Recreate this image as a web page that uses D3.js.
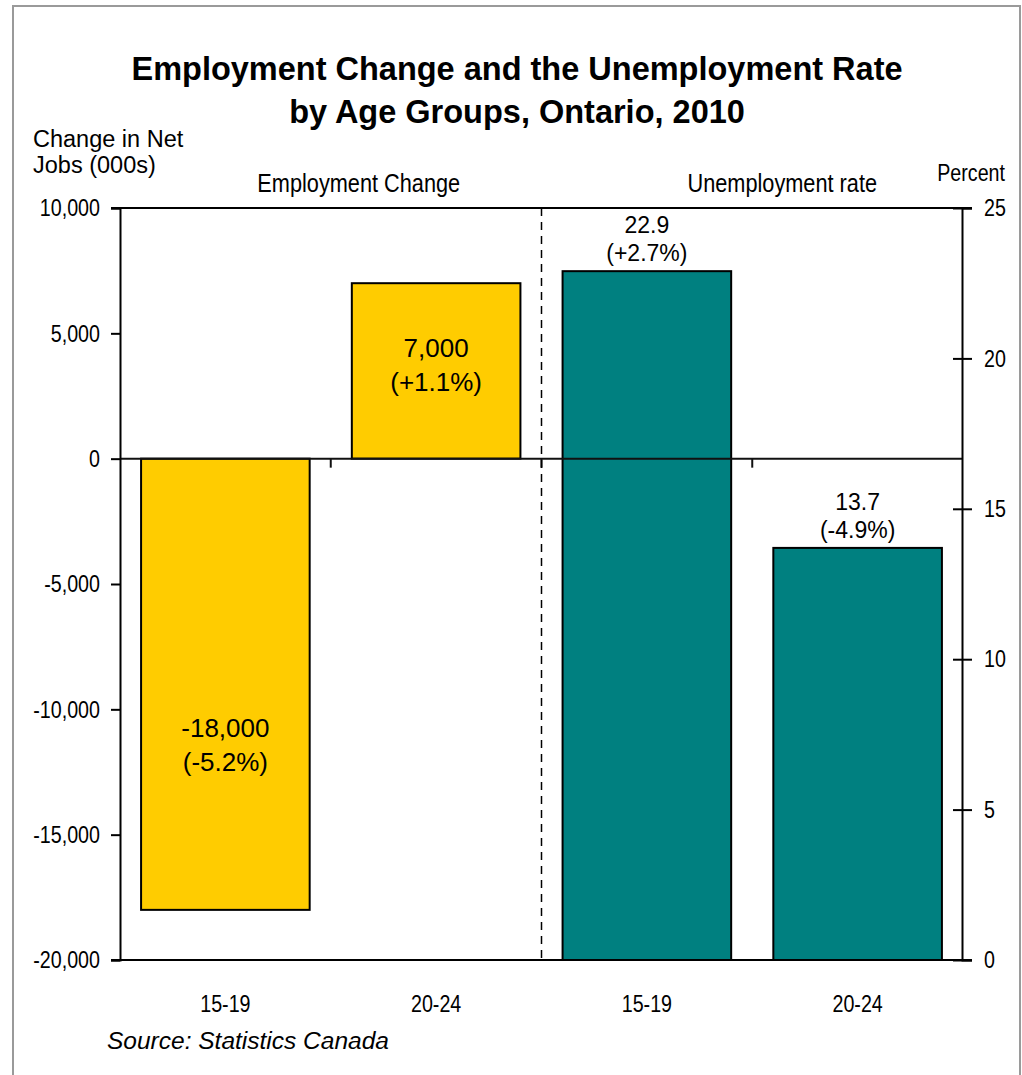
<!DOCTYPE html>
<html>
<head>
<meta charset="utf-8">
<script src="https://cdn.jsdelivr.net/npm/d3@7"></script>
<style>
  body { margin: 0; background: #fff; }
  text { font-family: "Liberation Sans", Arial, sans-serif; fill: #000; }
</style>
</head>
<body>
<div id="chart"></div>
<script>
// data
const barKeys = ['emp15', 'emp20', 'unemp15', 'unemp20'];
const ageGroups = ['15-19', '20-24', '15-19', '20-24'];
const employmentChange = [-18000, 7000];
const employmentLabels = ['-18,000', '7,000'];
const employmentPct = ['(-5.2%)', '(+1.1%)'];
const unemploymentRate = [22.9, 13.7];
const unemploymentPct = ['(+2.7%)', '(-4.9%)'];
const leftTicks = [10000, 5000, 0, -5000, -10000, -15000, -20000];
const leftTickLabels = ['10,000', '5,000', '0', '-5,000', '-10,000', '-15,000', '-20,000'];
const rightTicks = [25, 20, 15, 10, 5, 0];

const W = 1022, H = 1075;
const plot = {left: 120, right: 963, top: 208, bottom: 960};
const yellow = '#ffcc00', teal = '#008080';
const NARROW = 0.82;   // squeeze to mimic Arial Narrow
const narrowSize = 24;

const svg = d3.select('#chart').append('svg')
  .attr('width', W)
  .attr('height', H);

/**
 * Add a condensed text label at x, y
 */
function narrowText(x, y, str, anchor, size) {
  return svg.append('text')
    .attr('transform', 'translate(' + x + ',' + y + ') scale(' + NARROW + ',1)')
    .attr('text-anchor', anchor || 'start')
    .attr('font-size', size || narrowSize)
    .text(str);
}

// outer frame
svg.append('rect')
  .attr('x', 13).attr('y', 6)
  .attr('width', 1007).attr('height', 1100)
  .attr('fill', 'none')
  .attr('stroke', '#9a9a9a')
  .attr('stroke-width', 2);

const x = d3.scaleBand()
  .domain(barKeys)
  .range([plot.left, plot.right])
  .paddingInner(0.2)
  .paddingOuter(0.1);
const yL = d3.scaleLinear().domain([-20000, 10000]).range([plot.bottom, plot.top]);
const yR = d3.scaleLinear().domain([0, 25]).range([plot.bottom, plot.top]);

// title
const title = svg.append('text')
  .attr('text-anchor', 'middle')
  .attr('font-size', 32.5)
  .attr('font-weight', 'bold');
title.append('tspan').attr('x', 517).attr('y', 80)
  .text('Employment Change and the Unemployment Rate');
title.append('tspan').attr('x', 517).attr('y', 123)
  .text('by Age Groups, Ontario, 2010');

// left axis title
const lt = svg.append('text')
  .attr('font-size', 23.5);
lt.append('tspan').attr('x', 33).attr('y', 147).text('Change in Net');
lt.append('tspan').attr('x', 33).attr('y', 173).text('Jobs (000s)');

narrowText(1005, 181, 'Percent', 'end');

// panel headings
const leftMid = (x('emp15') + x('emp20') + x.bandwidth()) / 2;
const rightMid = (x('unemp15') + x('unemp20') + x.bandwidth()) / 2;
narrowText(leftMid + 28, 192, 'Employment Change', 'middle', 26.5);
narrowText(rightMid + 30, 192, 'Unemployment rate', 'middle', 26.5);

// bars: employment change (left scale)
svg.selectAll('.emp')
  .data(employmentChange)
  .enter().append('rect')
  .attr('class', 'emp')
  .attr('x', (d, i) => x(barKeys[i]))
  .attr('y', d => yL(Math.max(0, d)))
  .attr('width', x.bandwidth())
  .attr('height', d => Math.abs(yL(d) - yL(0)))
  .attr('fill', yellow)
  .attr('stroke', '#000')
  .attr('stroke-width', 2);

// bars: unemployment rate (right scale)
svg.selectAll('.unemp')
  .data(unemploymentRate)
  .enter().append('rect')
  .attr('class', 'unemp')
  .attr('x', (d, i) => x(barKeys[i + 2]))
  .attr('y', d => yR(d))
  .attr('width', x.bandwidth())
  .attr('height', d => yR(0) - yR(d))
  .attr('fill', teal)
  .attr('stroke', '#000')
  .attr('stroke-width', 2);

// zero line with category ticks
svg.append('line')
  .attr('x1', plot.left).attr('x2', plot.right)
  .attr('y1', yL(0)).attr('y2', yL(0))
  .attr('stroke', '#111').attr('stroke-width', 2);
barKeys.slice(1).forEach(k => {
  const tx = x(k) - x.step() * x.paddingInner() / 2;
  svg.append('line')
    .attr('x1', tx).attr('x2', tx)
    .attr('y1', yL(0)).attr('y2', yL(0) + 9)
    .attr('stroke', '#111').attr('stroke-width', 2);
});

// dashed divider
const divX = x('unemp15') - x.step() * x.paddingInner() / 2;
svg.append('line')
  .attr('x1', divX).attr('x2', divX)
  .attr('y1', plot.top).attr('y2', plot.bottom)
  .attr('stroke', '#000')
  .attr('stroke-width', 1.5)
  .attr('stroke-dasharray', '8,6');

// top and bottom frame lines
[plot.top, plot.bottom].forEach(yy => {
  svg.append('line')
    .attr('x1', plot.left - 9).attr('x2', plot.right + 9)
    .attr('y1', yy).attr('y2', yy)
    .attr('stroke', '#000').attr('stroke-width', 2);
});

// left axis
const leftAxis = svg.append('g')
  .attr('transform', 'translate(' + plot.left + ',0)')
  .call(d3.axisLeft(yL)
    .tickValues(leftTicks)
    .tickSize(9)
    .tickPadding(11)
    .tickFormat((d, i) => leftTickLabels[i]));

// right axis, crossing ticks
const rightAxis = svg.append('g')
  .attr('transform', 'translate(' + (plot.right - 1) + ',0)')
  .call(d3.axisRight(yR)
    .tickValues(rightTicks)
    .tickSize(10)
    .tickPadding(12));
rightAxis.selectAll('.tick line').attr('x1', -9);

[leftAxis, rightAxis].forEach(g => {
  g.attr('font-family', null).attr('font-size', null);
  g.select('.domain').attr('stroke', '#000').attr('stroke-width', 2);
  g.selectAll('.tick line').attr('stroke', '#000').attr('stroke-width', 2);
  g.selectAll('.tick text')
    .attr('font-size', narrowSize)
    .attr('fill', '#000')
    .attr('x', function() { return +d3.select(this).attr('x') / NARROW; })
    .attr('transform', 'scale(' + NARROW + ',1)');
});

// category labels
ageGroups.forEach((d, i) => {
  narrowText(x(barKeys[i]) + x.bandwidth() / 2, 1012, d, 'middle');
});

// value labels for employment bars (inside)
employmentChange.forEach((d, i) => {
  const cx = x(barKeys[i]) + x.bandwidth() / 2;
  const mid = (yL(Math.max(0, d)) + yL(Math.min(0, d))) / 2;
  const base = d < 0 ? mid + 53 : mid - 14;
  const t = svg.append('text')
    .attr('text-anchor', 'middle')
    .attr('font-size', 26);
  t.append('tspan').attr('x', cx).attr('y', base).text(employmentLabels[i]);
  t.append('tspan').attr('x', cx).attr('y', base + 34).text(employmentPct[i]);
});

// value labels for unemployment bars (above)
unemploymentRate.forEach((d, i) => {
  const cx = x(barKeys[i + 2]) + x.bandwidth() / 2;
  const top = yR(d);
  const t = svg.append('text')
    .attr('text-anchor', 'middle')
    .attr('font-size', 23);
  t.append('tspan').attr('x', cx).attr('y', top - 38).text(d3.format('.1f')(d));
  t.append('tspan').attr('x', cx).attr('y', top - 10).text(unemploymentPct[i]);
});

// source
svg.append('text')
  .attr('x', 107).attr('y', 1049)
  .attr('font-size', 24.5)
  .attr('font-style', 'italic')
  .text('Source: Statistics Canada');
</script>
</body>
</html>
